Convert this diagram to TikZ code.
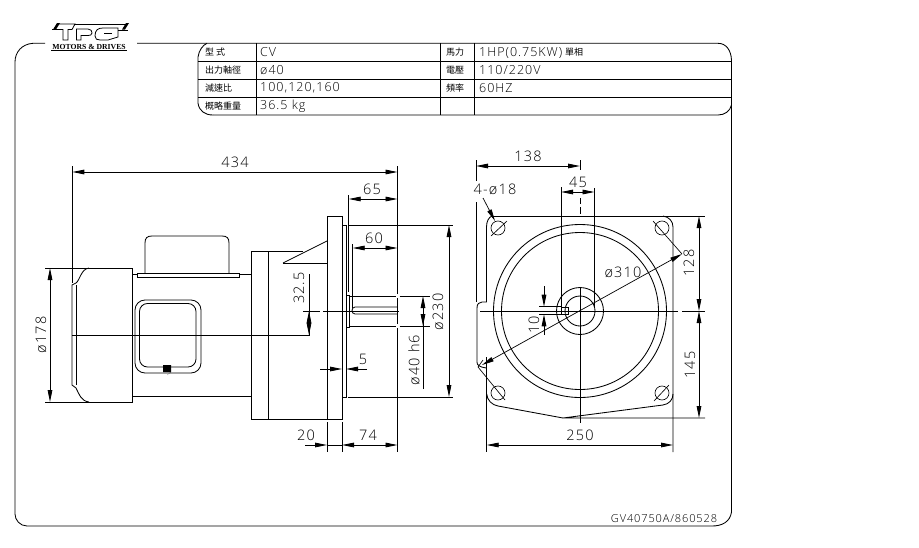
\documentclass[tikz,border=0pt]{standalone}
\usepackage{fontspec}
\setmainfont{Open Sans}[UprightFont=* Light,LetterSpace=8]
\newfontfamily\cjk{Noto Sans CJK TC}
\newfontfamily\logofont{Liberation Serif}[UprightFont=* Bold]
\usetikzlibrary{arrows.meta}
\tikzset{
  part/.style={line width=0.85pt},
  thin part/.style={line width=0.65pt},
  dimline/.style={line width=0.85pt,{Triangle[length=12pt,width=4.6pt]}-{Triangle[length=12pt,width=4.6pt]}},
  dimtip/.style={line width=0.85pt,-{Triangle[length=12pt,width=4.6pt]}},
  dimtext/.style={inner sep=0pt,font=\fontsize{14.5}{15}\selectfont},
  cell/.style={inner sep=0pt,anchor=west,font=\fontsize{12.5}{13}\selectfont},
  cellzh/.style={inner sep=0pt,anchor=west,font=\cjk\fontsize{9}{9}\selectfont}
}
\begin{document}
\begin{tikzpicture}[x=1pt,y=-1pt]
  \useasboundingbox (0,0) rectangle (919,547);
  \fill[white] (0,0) rectangle (919,547);
  \begin{scope}[part]
    \draw (45,43.3) -- (33,43.3) .. controls (22,44) and (15,52) .. (15,62) -- (15,514)
      .. controls (15,520) and (20,526) .. (27,526) -- (712,526)
      .. controls (722,526) and (730,522) .. (731.5,512) -- (731.5,60)
      .. controls (731,50) and (726,43.3) .. (718,43.3) -- (137,43.3);
    \draw (213,115) .. controls (205,115) and (199,111) .. (198,103) -- (198,57)
      .. controls (199,50) and (203,45) .. (207,43.3);
    \draw (213,115) -- (718,115) .. controls (725,115) and (730,111) .. (731.5,105);
    \draw (198,61) -- (731.5,61);
    \draw (198,79) -- (731.5,79);
    \draw (198,97.3) -- (731.5,97.3);
    \draw (256.7,43.3) -- (256.7,115);
    \draw (440,43.3) -- (440,115);
    \draw (474,43.3) -- (474,115);
  \end{scope}
  \node[cellzh] (type1) at (205,52.5) {型 式};
  \node[cellzh] (shaft1) at (205,70.5) {出力軸徑};
  \node[cellzh] (ratio1) at (205,88.5) {減速比};
  \node[cellzh] (weight1) at (205,106.5) {概略重量};
  \node[cell] (type2) at (260,52.5) {CV};
  \node[cell] (shaft2) at (260,70.5) {ø40};
  \node[cell] (ratio2) at (260,88) {100,120,160};
  \node[cell] (weight2) at (260,106.5) {36.5 kg};
  \node[cellzh] (power1) at (446,52.5) {馬力};
  \node[cellzh] (volt1) at (446,70.5) {電壓};
  \node[cellzh] (freq1) at (446,88.5) {頻率};
  \node[cell] (power2) at (479,52.5) {1HP(0.75KW)};
  \node[cellzh] (phase) at (565,52.5) {單相};
  \node[cell] (volt2) at (479,70.5) {110/220V};
  \node[cell] (freq2) at (479,88.5) {60HZ};
  \node[inner sep=0pt,font=\fontsize{11}{11}\selectfont] (code) at (664,518.5) {GV40750A/860528};
  \begin{scope}[line width=0.8pt]
    \fill (53,29.5) -- (57,23) -- (60,23) -- (56,29.5) -- cycle;
    \fill (122,29.5) -- (126,23) -- (129,23) -- (125,29.5) -- cycle;
    \draw (52,29.5) -- (63,29.5) -- (63,40) -- (68,40) -- (68,29.5) -- (72,29.5) -- (75,24) -- (57,24);
    \draw (76.5,40) -- (76.5,29) -- (88,29) .. controls (91,29) and (92,31) .. (92,33)
      .. controls (92,35) and (90,35.5) .. (88,35.5) -- (81,35.5) -- (81,40) -- cycle;
    \draw (75,24) -- (127,24);
    \draw (95,36) .. controls (95,30) and (98,28) .. (103,28) -- (118,28) -- (118,37) -- (108,40)
      -- (100,40) .. controls (97,40) and (95,39) .. (95,36);
    \draw (118,30) -- (128,30);
    \draw (104,33) -- (112,33);
    \draw (51,50.6) -- (127,50.6);
  \end{scope}
  \node[inner sep=0pt,font=\logofont\fontsize{7.7}{8}\selectfont] (logotext) at (89,46.8) {MOTORS \& DRIVES};
  \begin{scope}[part]
    \draw (45,268) -- (132,268) -- (132,402) -- (45,402);
    \draw (89,268) .. controls (81,269) and (80,280) .. (76,283) -- (72,285) -- (72,385) -- (76,388)
      .. controls (79,394) and (81,401) .. (89,402);
    \draw (76,285) -- (76,385);
    \draw (72,335) -- (309,335) -- (309,274);
    \draw (132,274) -- (137,274);
    \draw (239,274) -- (251,274);
    \draw (132,396) -- (251,396);
    \draw (137,273) rectangle (239,277);
    \draw (145,273) -- (145,243) .. controls (145,238) and (147,236) .. (152,236) -- (222,236)
      .. controls (227,236) and (229,238) .. (229,243) -- (229,273);
    \draw[rounded corners=10pt] (135,300) rectangle (201,373);
    \draw[rounded corners=8pt] (139.5,303.5) rectangle (196,367);
    \fill (163,365) rectangle (171,372) -- (167,375) -- cycle;
    \draw (303,251) -- (251,251) -- (251,419) -- (327,419);
    \draw (268,251) -- (268,419);
    \draw (327,216) rectangle (342,419);
    \draw (342,225) rectangle (346,397);
    \draw (346,295) -- (349,295) -- (349,327) -- (346,327);
    \draw (283,263) -- (327,241);
    \draw (283,263) -- (327,263);
    \draw (349,296) -- (395.5,296);
    \draw (399.5,296) -- (430,296);
    \draw (349,326) -- (395.5,326);
    \draw (399.5,326) -- (430,326);
    \draw (397,307) -- (355,307) .. controls (351,307) and (351,314) .. (355,314) -- (397,314);
    \draw (303,311) -- (320,311);
    \draw (323,311) -- (399,311);
    \draw (348.7,195) -- (348.7,292);
    \draw (352.7,244) -- (352.7,308);
    \draw (348,225) -- (453,225);
    \draw (348,397) -- (453,397);
    \draw (72.3,166) -- (72.3,283);
    \draw (397.5,166) -- (397.5,294);
    \draw (397.5,298) -- (397.5,324);
    \draw (397.5,328) -- (397.5,452);
    \draw (327,422) -- (327,452);
    \draw (342,422) -- (342,452);
  \end{scope}
  \draw[dimline] (72.3,172) -- (397.5,172);
  \draw[dimline] (50,268) -- (50,402);
  \draw[dimline] (348.7,199) -- (397.5,199);
  \draw[dimline] (352.7,248) -- (397.5,248);
  \draw[dimline] (449,225) -- (449,397);
  \draw[dimtip] (423,389) -- (423,296);
  \draw[dimtip] (423,311) -- (423,326);
  \draw[dimtip] (309,325) -- (309,311);
  \draw[dimtip] (309,322) -- (309,335);
  \draw[dimtip] (320,369) -- (342,369);
  \draw[dimtip] (367,369) -- (346,369);
  \draw[dimtip] (305,445) -- (327,445);
  \draw[dimline] (342,445) -- (397.5,445);
  \draw[part] (327,445) -- (342,445);
  \node[dimtext] (d434) at (235,162) {434};
  \node[dimtext,rotate=90] (d178) at (41,335) {ø178};
  \node[dimtext] (d65) at (372,189) {65};
  \node[dimtext] (d60) at (374,238) {60};
  \node[dimtext,rotate=90] (d325) at (299,288) {32.5};
  \node[dimtext] (d5) at (363,359) {5};
  \node[dimtext,rotate=90] (d230) at (438,312) {ø230};
  \node[dimtext,rotate=90] (d40) at (414,360) {ø40 h6};
  \node[dimtext] (d20) at (306,435) {20};
  \node[dimtext] (d74) at (368,435) {74};
  \begin{scope}[part]
    \draw (492,216) .. controls (489,217) and (486.5,221) .. (486.5,227) -- (486.5,302);
    \draw (492,216) -- (705,216);
    \draw (663,216) .. controls (669,217) and (673,221) .. (673,227) -- (673,452);
    \draw (476,160) -- (476,181);
    \draw (476,202) -- (476,302);
    \draw (486.5,302) -- (482,302) .. controls (479,302) and (477,304) .. (477,308) -- (477,362)
      .. controls (477,365) and (479,367) .. (486.5,368);
    \draw (486.7,357) -- (486.7,452);
    \draw (673,394) .. controls (673,400) and (669,404) .. (663,405) -- (563,418)
      -- (705,418);
    \draw (486.7,394) .. controls (487,400) and (492,405) .. (498,406) -- (563,418);
    \draw (480,311) -- (678,311);
    \draw (682,311) -- (705,311);
    \draw (580,160) -- (580,170);
    \draw (580,198) -- (580,204);
    \draw (580,207) -- (580,214);
    \draw (580,287) -- (580,423);
    \draw (561,187) -- (561,308);
    \draw (594.5,188) -- (594.5,308);
    \draw (539,306.7) -- (561,306.7);
    \draw (539,314.3) -- (561,314.3);
    \node[draw,minimum size=7pt,inner sep=0pt] (keyway) at (564.8,311) {};
    \draw (580,311) circle (86.5);
    \draw (580,311) circle (78.5);
    \draw (580,311) circle (23.5);
    \draw (580,311) circle (15);
  \end{scope}
  \begin{scope}[thin part]
    \draw (498,228) circle (7);
    \draw (662,228) circle (7);
    \draw (498,393) circle (7);
    \draw (662,393) circle (7);
    \draw (491,236) -- (507,221);
    \draw (653,221) -- (682,254);
    \draw (478,367) -- (505,400);
    \draw (654,401) -- (669,385);
    \draw (478,367) -- (483,360);
  \end{scope}
  \draw[dimline,line width=0.7pt] (482,365) -- (682,254);
  \draw[dimtip,line width=0.7pt] (483,198) -- (495,221);
  \draw[dimline] (476,166) -- (580,166);
  \draw[dimline] (561,192) -- (594.5,192);
  \draw[dimtip] (544,286) -- (544,306.7);
  \draw[dimtip] (544,335) -- (544,314.3);
  \draw[dimline] (486.7,445) -- (673,445);
  \draw[dimline] (699,216) -- (699,311);
  \draw[dimline] (699,311) -- (699,418);
  \node[dimtext] (d138) at (528,156) {138};
  \node[dimtext] (d45) at (578,182) {45};
  \node[dimtext] (dhole) at (495,189) {4-ø18};
  \node[dimtext] (d310) at (623,272) {ø310};
  \node[dimtext,rotate=90] (d128) at (689,263) {128};
  \node[dimtext,rotate=90] (d145) at (690,365) {145};
  \node[dimtext,rotate=90] (d10) at (534,325) {10};
  \node[dimtext] (d250) at (580,435) {250};
\end{tikzpicture}
\end{document}
